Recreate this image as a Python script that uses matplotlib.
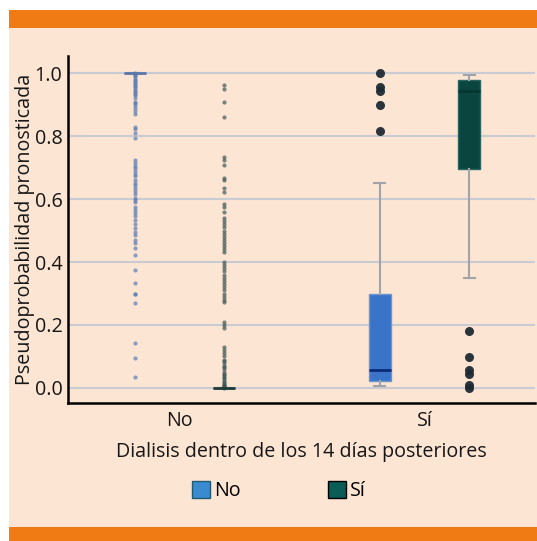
import matplotlib
matplotlib.use("Agg")
import matplotlib.pyplot as plt
from matplotlib.patches import Rectangle, Patch

# ---------------- data ----------------
categories = ["No", "Sí"]
hue_labels = ["No", "Sí"]

# Left group ("No"): degenerate boxes, all other values are fliers
no_no_box = dict(q1=1.0, med=1.0, q3=1.0, whislo=1.0, whishi=1.0)
no_no_fliers = [1.0, 0.998, 0.995, 0.99, 0.985, 0.98, 0.975, 0.97, 0.965, 0.96, 0.955,
                0.95, 0.945, 0.94, 0.935, 0.93, 0.92, 0.91, 0.905, 0.90, 0.89, 0.88,
                0.872, 0.83, 0.822, 0.81, 0.793,
                0.724, 0.715, 0.705, 0.70, 0.69, 0.68, 0.672, 0.66, 0.652, 0.645,
                0.635, 0.625, 0.615, 0.605, 0.596, 0.591,
                0.576, 0.565, 0.555, 0.545, 0.535, 0.522, 0.507,
                0.496, 0.485, 0.47, 0.46, 0.444, 0.422, 0.375, 0.332, 0.30, 0.297,
                0.269, 0.142, 0.094, 0.036]
no_si_box = dict(q1=0.0, med=0.0, q3=0.0, whislo=0.0, whishi=0.0)
no_si_fliers = [0.962, 0.951, 0.909, 0.862, 0.735, 0.724, 0.708, 0.666, 0.661,
                0.634, 0.623, 0.586, 0.576, 0.56,
                0.539, 0.53, 0.52, 0.512, 0.50, 0.49, 0.48, 0.47, 0.46, 0.45, 0.44, 0.433,
                0.401, 0.39, 0.38, 0.37, 0.36, 0.35, 0.34, 0.33, 0.32, 0.31, 0.30,
                0.29, 0.28, 0.274, 0.211, 0.20, 0.19,
                0.131, 0.12, 0.11, 0.10, 0.09, 0.085, 0.08, 0.07, 0.065, 0.06, 0.05,
                0.045, 0.04, 0.035, 0.03, 0.025, 0.02, 0.015, 0.01, 0.008, 0.005,
                0.003, 0.0]

# Right group ("Sí")
si_no_box = dict(q1=0.022, med=0.057, q3=0.30, whislo=0.006, whishi=0.65)
si_no_fliers = [1.0, 0.955, 0.945, 0.90, 0.816]
si_si_box = dict(q1=0.695, med=0.945, q3=0.978, whislo=0.35, whishi=0.995)
si_si_fliers = [0.18, 0.098, 0.057, 0.045, 0.01, 0.0]

yticks = [0.0, 0.2, 0.4, 0.6, 0.8, 1.0]

# ---------------- style ----------------
plt.rcParams["font.family"] = ["Open Sans", "DejaVu Sans"]
FS = 14.2
ORANGE = "#f07a14"
PEACH = "#fde5d4"
BLUE = "#3a74c8"
GREEN = "#0b4540"
TXT = "#161616"

fig = plt.figure(figsize=(5.37, 5.41), dpi=100)
fig.patch.set_facecolor("white")
W, H = 537.0, 541.0
for (y0, h, c) in [((H - 28) / H, 18 / H, ORANGE), ((H - 527) / H, 499 / H, PEACH),
                   (0, 14 / H, ORANGE)]:
    fig.patches.append(Rectangle((9 / W, y0), 1, h, transform=fig.transFigure,
                                 facecolor=c, edgecolor="none", zorder=-5))

ax = fig.add_axes([68 / W, (H - 403) / H, (535 - 68) / W, (403 - 56) / H])
ax.set_facecolor("none")
ax.set_zorder(2)

off = 0.182
bw = 0.092
groups = [
    (0 - off, no_no_box, no_no_fliers, BLUE, "#5a7cb2", "#5a78a8", 3.0, 0.7),
    (0 + off, no_si_box, no_si_fliers, GREEN, "#3d5858", "#1f3a3a", 3.0, 0.7),
    (1 - off, si_no_box, si_no_fliers, BLUE, "#1e2a33", "#0a2a78", 6.5, 0.95),
    (1 + off, si_si_box, si_si_fliers, GREEN, "#1e2a33", "#073632", 6.5, 0.95),
]
for pos, st, fl, col, fcol, mcol, msize, alpha in groups:
    stats = dict(st)
    stats["fliers"] = fl
    ax.bxp([stats], positions=[pos], widths=bw, patch_artist=True,
           capwidths=0.045,
           boxprops=dict(facecolor=col, edgecolor="#6a95d0" if col == BLUE else "#2a6560",
                         linewidth=1.0),
           medianprops=dict(color=mcol, linewidth=2.0),
           whiskerprops=dict(color="#a0a3a8", linewidth=1.5),
           capprops=dict(color="#a0a3a8", linewidth=1.5),
           flierprops=dict(marker="o", markersize=msize, markerfacecolor=fcol,
                           markeredgecolor="none", alpha=alpha),
           zorder=3)

ax.set_xlim(-0.455, 1.451)
ax.set_ylim(-0.048, 1.055)
ax.set_yticks(yticks)
ax.set_yticklabels([f"{v:.1f}" for v in yticks])
ax.set_xticks([0, 1])
ax.set_xticklabels(categories)
ax.tick_params(axis="both", length=0, labelsize=FS, colors=TXT)
ax.tick_params(axis="y", pad=4)
ax.tick_params(axis="x", pad=6)
ax.yaxis.grid(True, color="#c9cbd3", linewidth=1.5, zorder=0)
ax.set_axisbelow(True)
for s in ["top", "right"]:
    ax.spines[s].set_visible(False)
for s in ["left", "bottom"]:
    ax.spines[s].set_linewidth(1.8)
    ax.spines[s].set_color("black")

ax.set_ylabel("Pseudoprobabilidad pronosticada", fontsize=FS, color=TXT, labelpad=0)
ax.set_xlabel("Dialisis dentro de los 14 días posteriores", fontsize=FS, color=TXT,
              labelpad=8)

handles = [Patch(facecolor="#3a8ad0", edgecolor="#1e5a70", label=hue_labels[0]),
           Patch(facecolor="#0b5c57", edgecolor="black", label=hue_labels[1])]
fig.legend(handles=handles, loc="center", bbox_to_anchor=(279 / W, 50 / H), ncol=2,
           frameon=False, fontsize=FS, handlelength=0.92, handleheight=0.92,
           handletextpad=0.2, columnspacing=4.4, borderpad=0.2)

fig.savefig("out.png", dpi=100)
